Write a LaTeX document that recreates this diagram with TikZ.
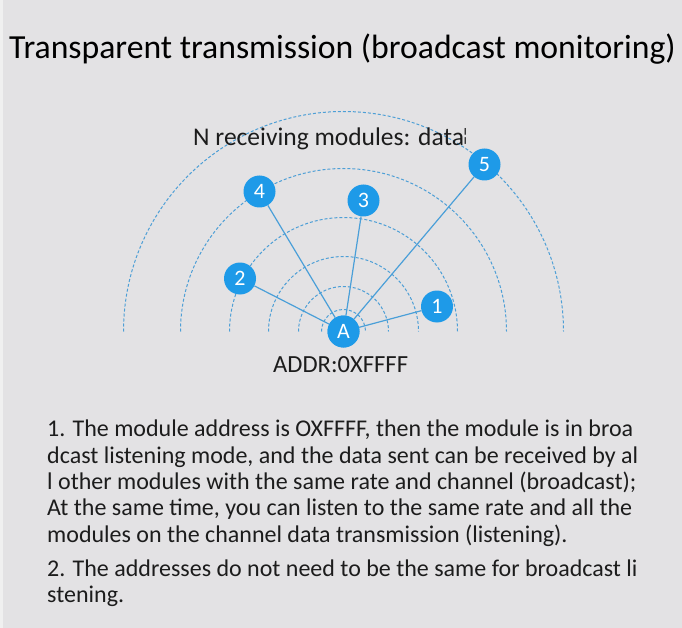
\documentclass[tikz,border=0pt]{standalone}
\usepackage{fontspec}
\setmainfont{Carlito}
\usepackage{tikz}
\usetikzlibrary{positioning}
\definecolor{bgray}{HTML}{E3E2E4}
\definecolor{modblue}{HTML}{1E9AE8}
\definecolor{linkblue}{HTML}{4A9FD8}
\definecolor{wavblue}{HTML}{4E9FD6}
\definecolor{txtgray}{HTML}{1C1C1C}

\begin{document}
\begin{tikzpicture}[x=1pt,y=-1pt,
  module/.style={circle,fill=modblue,text=white,minimum size=32pt,inner sep=0pt,font=\fontsize{22}{22}\selectfont},
  link/.style={draw=linkblue,line width=1.2pt},
  wave/.style={draw=wavblue,line width=1pt,dash pattern=on 3pt off 2pt},
  label/.style={anchor=base west,inner sep=0pt,text=txtgray},
  note/.style={anchor=base west,align=left,inner sep=0pt,text=txtgray,font=\fontsize{24}{26.3}\selectfont}]
% background
\fill[bgray] (0,0) rectangle (682,628);
\fill[gray!12] (0,0) rectangle (3,628);
\useasboundingbox (0,0) rectangle (682,628);
% title
\node[label,text=black,font=\fontsize{33.7}{33.7}\selectfont] (title) at (9,59) {Transparent transmission (broadcast monitoring)};
% sender and waves
\node[module] (A) at (343.5,331.5) {A};
\foreach \r in {22,45,75,114,163,220}
  \draw[wave] ([xshift=-\r pt]A.center) arc[start angle=180,end angle=0,radius=\r pt];
\node[module] (A) at (343.5,331.5) {A};
% receivers
\node[module] (m1) at (437,306.5) {1};
\node[module] (m2) at (240,278.5) {2};
\node[module] (m3) at (363.5,200.5) {3};
\node[module] (m4) at (259.5,191.5) {4};
\node[module] (m5) at (484.5,164.5) {5};
\foreach \m in {m1,m2,m3,m4,m5}
  \draw[link] (A) -- (\m);
% labels
\node[label,font=\fontsize{25.5}{25.5}\selectfont] (recv) at (193,146) {N receiving modules: data\kern-3pt\raisebox{4pt}{\fontsize{18}{18}\selectfont¦}};
\node[label,font=\fontsize{24.6}{24.6}\selectfont] (addr) at (273,372) {ADDR:0XFFFF};
% notes (base anchor = last line)
\node[note] (note1) at (47,542) {1. The module address is OXFFFF, then the module is in broa\\
dcast listening mode, and the data sent can be received by al\\
l other modules with the same rate and channel (broadcast);\\
At the same time, you can listen to the same rate and all the\\
modules on the channel data transmission (listening).};
\node[note] (note2) at (47,602.5) {2. The addresses do not need to be the same for broadcast li\\
stening.};
\end{tikzpicture}
\end{document}
